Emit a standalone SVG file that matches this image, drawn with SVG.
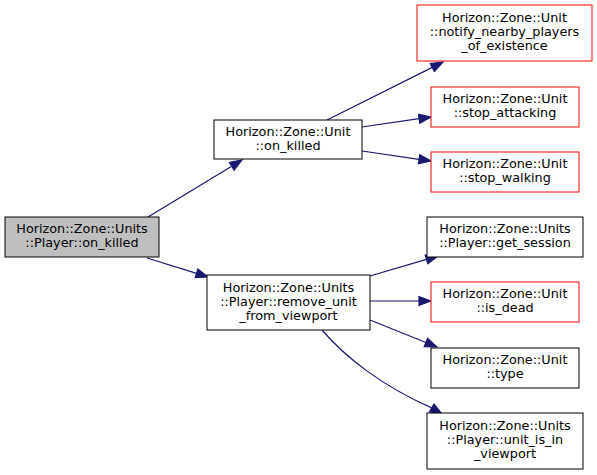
<svg xmlns="http://www.w3.org/2000/svg" width="597" height="475" viewBox="0 0 597 475">
<style>
.n rect{fill:#fff;stroke:#000;stroke-width:1}
.n.r rect{stroke:#ff0000}
.n.g rect{fill:#bfbfbf}
text{font-family:"DejaVu Sans",sans-serif;font-size:12.8px;text-anchor:middle;fill:#000}
.e path{fill:none;stroke:#191970;stroke-width:1.2}
.e polygon{fill:#191970;stroke:#191970;stroke-width:1.2}
</style>
<rect width="597" height="475" fill="#fff"/>
<g id="edges" class="e">
<path d="M148,217 L231.7,166.2"/><polygon points="242,160 234.1,170.1 229.4,162.4"/>
<path d="M147,258 L196.5,273.4"/><polygon points="208,277 195.2,277.7 197.9,269.1"/>
<path d="M327,120 L432.3,67.4"/><polygon points="443,62 434.3,71.4 430.3,63.4"/>
<path d="M362,127 L419.1,118.7"/><polygon points="431,117 419.8,123.2 418.5,114.3"/>
<path d="M362,151 L419.1,159.3"/><polygon points="431,161 418.5,163.8 419.8,154.8"/>
<path d="M370,276 L426.5,259.4"/><polygon points="438,256 427.8,263.7 425.2,255.1"/>
<path d="M370,301 L419,301"/><polygon points="431,301 419,305.5 419,296.5"/>
<path d="M370,320 L425.9,342.5"/><polygon points="437,347 424.2,346.7 427.6,338.3"/>
<path d="M322,330 C345,357 382,386 431.7,407.9"/><polygon points="442,414 429.4,411.8 434,404"/>
</g>
<g id="node_player_on_killed" class="n g"><rect x="5" y="217" width="154" height="40"/><text x="82" y="233">Horizon::Zone::Units</text><text x="82" y="247">::Player::on_killed</text></g>
<g id="node_unit_on_killed" class="n"><rect x="214" y="120" width="148" height="39"/><text x="288" y="135.5">Horizon::Zone::Unit</text><text x="288" y="149.5">::on_killed</text></g>
<g id="node_notify" class="n r"><rect x="417" y="5" width="175" height="56"/><text x="504.5" y="22">Horizon::Zone::Unit</text><text x="504.5" y="36">::notify_nearby_players</text><text x="504.5" y="50">_of_existence</text></g>
<g id="node_stop_attacking" class="n r"><rect x="431" y="87" width="148" height="40"/><text x="505" y="103">Horizon::Zone::Unit</text><text x="505" y="117">::stop_attacking</text></g>
<g id="node_stop_walking" class="n r"><rect x="431" y="152" width="148" height="40"/><text x="505" y="168">Horizon::Zone::Unit</text><text x="505" y="182">::stop_walking</text></g>
<g id="node_remove_unit" class="n"><rect x="207" y="275" width="163" height="55"/><text x="288.5" y="291.5">Horizon::Zone::Units</text><text x="288.5" y="305.5">::Player::remove_unit</text><text x="288.5" y="319.5">_from_viewport</text></g>
<g id="node_get_session" class="n"><rect x="427" y="217" width="156" height="40"/><text x="505" y="233">Horizon::Zone::Units</text><text x="505" y="247">::Player::get_session</text></g>
<g id="node_is_dead" class="n r"><rect x="431" y="282" width="148" height="40"/><text x="505" y="298">Horizon::Zone::Unit</text><text x="505" y="312">::is_dead</text></g>
<g id="node_type" class="n"><rect x="431" y="348" width="148" height="40"/><text x="505" y="364">Horizon::Zone::Unit</text><text x="505" y="378">::type</text></g>
<g id="node_unit_is_in_viewport" class="n"><rect x="427" y="413" width="156" height="56"/><text x="505" y="430">Horizon::Zone::Units</text><text x="505" y="444">::Player::unit_is_in</text><text x="505" y="458">_viewport</text></g>
</svg>
